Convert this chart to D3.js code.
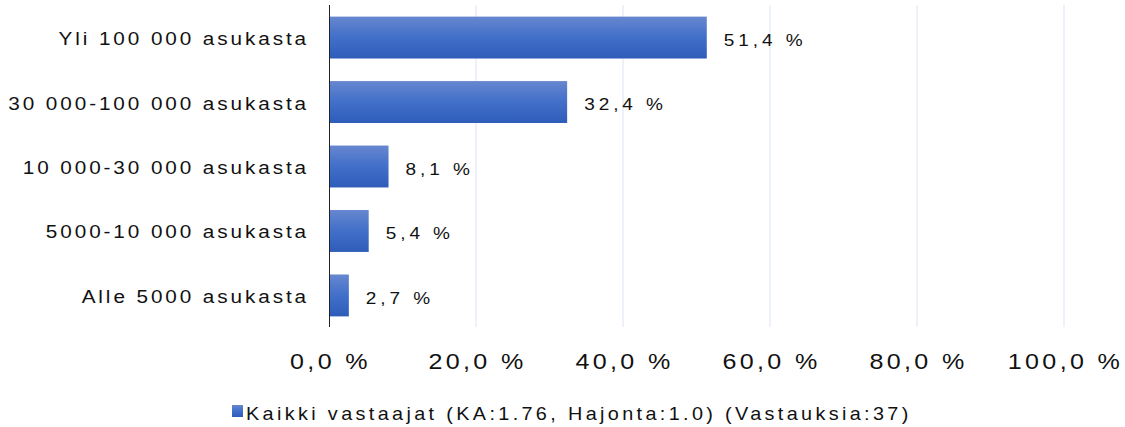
<!DOCTYPE html>
<html>
<head>
<meta charset="utf-8">
<script src="https://cdn.jsdelivr.net/npm/d3@7"></script>
<style>
  body { margin: 0; background: #fff; }
  text { font-family: "Liberation Sans", Arial, sans-serif; fill: #111; }
</style>
</head>
<body>
<script>
//------------ DATA ----------------------
const categories = ["Yli 100 000 asukasta", "30 000-100 000 asukasta", "10 000-30 000 asukasta",
                    "5000-10 000 asukasta", "Alle 5000 asukasta"];
const values = [51.4, 32.4, 8.1, 5.4, 2.7];
const xTicks = [0, 20, 40, 60, 80, 100];
const seriesName = "Kaikki vastaajat (KA:1.76, Hajonta:1.0) (Vastauksia:37)";
//----------------------------------------

const width = 1125, height = 427;
const margin = {top: 5, right: 61, bottom: 101, left: 329};
const stretch = 1.12;  // text in the original is drawn a bit wide

const svg = d3.select("body").append("svg")
    .attr("width", width)
    .attr("height", height);

// bar gradient
const grad = svg.append("defs").append("linearGradient")
    .attr("id", "barGrad")
    .attr("x1", 0).attr("y1", 0).attr("x2", 0).attr("y2", 1);
grad.append("stop").attr("offset", "0%").attr("stop-color", "#6787cf");
grad.append("stop").attr("offset", "50%").attr("stop-color", "#416fc9");
grad.append("stop").attr("offset", "100%").attr("stop-color", "#2e5cb9");

const x = d3.scaleLinear()
    .domain([0, 100])
    .range([margin.left, width - margin.right]);

const y = d3.scaleBand()
    .domain(categories)
    .range([margin.top, height - margin.bottom + 2])
    .paddingInner(0.35)
    .paddingOuter(0.18);

const place = (px, py) => `translate(${px},${py}) scale(${stretch},1)`;

// gridlines
svg.append("g")
    .selectAll("line")
    .data(xTicks.filter(d => d > 0))
    .join("line")
    .attr("x1", d => x(d)).attr("x2", d => x(d))
    .attr("y1", margin.top).attr("y2", height - margin.bottom + 1)
    .attr("stroke", "#dbe5f1")
    .attr("stroke-width", 1);

// bars
svg.append("g")
    .selectAll("rect")
    .data(values)
    .join("rect")
    .attr("x", x(0))
    .attr("y", (d, i) => y(categories[i]))
    .attr("width", d => x(d) - x(0))
    .attr("height", y.bandwidth())
    .attr("fill", "url(#barGrad)");

// value labels
svg.append("g")
    .selectAll("text")
    .data(values)
    .join("text")
    .attr("transform", (d, i) => place(x(d) + 17, y(categories[i]) + y.bandwidth() / 2 + 2.5))
    .attr("dy", "0.35em")
    .style("font-size", "17px")
    .style("letter-spacing", "3.5px")
    .text(d => d.toFixed(1).replace(".", ",") + " %");

// y axis line
svg.append("line")
    .attr("x1", x(0) + 0.5).attr("x2", x(0) + 0.5)
    .attr("y1", margin.top).attr("y2", height - margin.bottom + 1)
    .attr("stroke", "#222")
    .attr("stroke-width", 1);

// category labels
svg.append("g")
    .selectAll("text")
    .data(categories)
    .join("text")
    .attr("transform", d => place(x(0) - 20, y(d) + y.bandwidth() / 2 + 1))
    .attr("dy", "0.35em")
    .attr("text-anchor", "end")
    .style("font-size", "18.5px")
    .style("letter-spacing", "2.6px")
    .text(d => d);

// x tick labels
svg.append("g")
    .selectAll("text")
    .data(xTicks)
    .join("text")
    .attr("transform", d => place(x(d) + 1.5, 368.5))
    .attr("text-anchor", "middle")
    .style("font-size", "22.4px")
    .style("letter-spacing", "3px")
    .text(d => d.toFixed(1).replace(".", ",") + " %");

// legend
const legend = svg.append("g");
legend.append("rect")
    .attr("x", 232).attr("y", 405)
    .attr("width", 11).attr("height", 12)
    .attr("fill", "url(#barGrad)");
legend.append("text")
    .attr("transform", place(246, 419.5))
    .style("font-size", "17.7px")
    .style("letter-spacing", "3px")
    .text(seriesName);
</script>
</body>
</html>
